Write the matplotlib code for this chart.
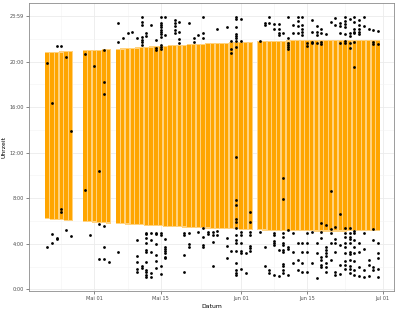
import numpy as np
import pandas as pd
import matplotlib.pyplot as plt

# days counted from 1 May
base = pd.Timestamp("2021-05-01")

# days with a sunrise/sunset bar (offset from 1 May)
bar_days = list(range(-10, -4)) + list(range(-2, 4)) + list(range(5, 34)) + list(range(35, 61))
sunset = [20.74, 20.76, 20.78, 20.80, 20.82, 20.84,
          20.90, 20.92, 20.94, 20.96, 20.98, 21.00,
          21.03, 21.06, 21.09, 21.12, 21.15, 21.18, 21.20, 21.23, 21.26, 21.28,
          21.31, 21.33, 21.36, 21.38, 21.40, 21.43, 21.45, 21.47, 21.49, 21.51,
          21.53, 21.55, 21.57, 21.58, 21.60, 21.62, 21.63, 21.65, 21.66,
          21.69, 21.70, 21.71, 21.72, 21.74, 21.75, 21.76, 21.77, 21.77, 21.78,
          21.79, 21.80, 21.80, 21.81, 21.81, 21.82, 21.82, 21.82, 21.83, 21.83,
          21.83, 21.83, 21.83, 21.82, 21.82, 21.82]
sunrise = [6.24, 6.21, 6.18, 6.15, 6.12, 6.09,
           6.02, 5.99, 5.96, 5.93, 5.91, 5.88,
           5.84, 5.81, 5.79, 5.76, 5.74, 5.71, 5.69, 5.67, 5.64, 5.62,
           5.60, 5.58, 5.56, 5.54, 5.52, 5.50, 5.49, 5.47, 5.45, 5.44,
           5.42, 5.41, 5.39, 5.38, 5.37, 5.36, 5.34, 5.33, 5.32,
           5.28, 5.26, 5.25, 5.24, 5.23, 5.22, 5.21, 5.20, 5.19, 5.19,
           5.18, 5.18, 5.17, 5.17, 5.17, 5.17, 5.17, 5.17, 5.17, 5.18,
           5.18, 5.18, 5.19, 5.19, 5.20, 5.20]

# detections: day offset -> times (hours)
evening = {
    -10: [19.9], -9: [16.4], -8: [21.4], -7: [21.4], -6: [20.4], -5: [13.9],
    -2: [20.7], 0: [19.6], 1: [10.4], 2: [21.0, 18.2, 17.2], 5: [23.4, 21.7],
    6: [22.1], 7: [22.55], 8: [22.64], 9: [22.05],
    10: [23.95, 23.5, 23.2, 22.2, 21.9, 21.7, 21.5], 11: [22.55, 22.26], 12: [23.2],
    13: [21.9, 21.2, 21.0],
    14: [23.95, 23.43, 23.2, 23.0, 22.8, 22.6, 22.4, 22.2, 21.5, 21.3, 21.1],
    15: [23.95, 22.35], 17: [23.65, 23.4, 23.1, 22.8, 22.5], 18: [23.5, 22.6, 21.95, 21.65],
    20: [23.43], 21: [22.1, 21.75], 22: [22.35], 23: [23.95, 22.5, 22.1],
    26: [22.9], 28: [23.0], 29: [21.85, 21.1, 20.8],
    30: [23.95, 23.75, 23.0, 22.4, 22.25, 22.1, 21.85, 21.25, 11.6], 31: [23.75, 21.85],
    35: [21.85], 36: [23.43, 23.2], 37: [23.95, 23.43], 38: [23.3, 22.85],
    39: [23.3, 22.9, 22.5, 22.3], 40: [22.5, 9.75],
    41: [23.9, 22.05, 21.67, 21.5, 21.3, 21.15], 42: [23.2, 22.55],
    43: [23.95, 23.6, 23.15, 22.5], 44: [23.95, 23.2, 22.9, 22.6, 22.35],
    45: [21.6, 21.4], 46: [23.65, 22.6, 21.75, 21.6], 47: [23.1, 22.6, 22.35, 21.65],
    48: [22.9, 22.5, 21.75, 21.55], 49: [22.4], 50: [23.5, 8.6], 51: [23.8, 23.2],
    52: [23.4, 23.1, 22.5, 21.65, 6.6], 53: [23.95, 23.6, 23.3, 23.0, 22.4, 21.85, 21.6],
    54: [23.75, 22.55, 22.26, 21.65, 21.2], 55: [23.95, 23.5, 22.9, 22.6, 22.5, 21.75, 19.5],
    56: [23.65, 23.2, 22.9, 22.6, 22.4], 57: [23.95, 23.1], 58: [22.85],
    59: [22.8, 21.75, 21.55], 60: [22.65, 21.55],
}
morning = {
    -10: [3.75], -9: [4.1, 4.85], -8: [4.55, 4.45], -7: [7.05, 6.8], -6: [5.2], -5: [4.65],
    -2: [8.7], -1: [4.8], 1: [5.7, 2.7], 2: [5.6, 3.7, 2.65], 3: [2.4], 5: [3.3],
    9: [4.33, 2.95, 2.43, 1.78, 1.55], 10: [2.05, 1.9],
    11: [4.97, 4.83, 4.48, 4.04, 3.45, 3.28, 2.4, 1.7, 1.52, 1.23, 1.05],
    12: [4.97, 4.33, 3.28, 1.41, 1.05], 13: [4.97, 4.83, 3.95, 2.99, 2.49, 1.9],
    14: [4.97, 4.75, 2.05, 1.34], 15: [4.45, 3.74, 3.57, 3.39, 3.22, 2.86, 2.72],
    19: [4.92, 4.75, 2.99, 1.55], 20: [4.97, 3.95, 3.74], 22: [5.06],
    23: [5.36, 4.57, 3.87, 3.74], 24: [5.06, 4.86],
    25: [5.06, 4.77, 4.18, 2.05], 26: [5.15, 4.77], 28: [4.48, 3.8, 2.75], 29: [3.39],
    30: [7.85, 7.4, 6.18, 5.94, 5.41, 4.77, 4.33, 4.04, 3.37, 2.34, 1.7, 1.46, 1.26],
    31: [5.06, 4.77, 4.04, 3.39, 3.16, 1.78], 32: [3.22, 1.41],
    33: [6.77, 5.94, 5.06, 4.77, 3.83, 3.6, 3.37], 35: [5.06], 36: [3.74, 2.05],
    37: [1.7, 1.46], 38: [4.97, 4.77, 4.27, 4.04, 3.89, 1.26], 39: [3.45, 1.17],
    40: [7.9, 4.97, 4.62, 4.04, 3.89, 3.45, 3.3, 2.22, 2.05, 1.7, 1.41],
    41: [5.21, 3.69, 3.51, 1.28], 42: [4.97, 3.3, 2.34], 43: [4.04, 2.57, 1.7],
    44: [4.04, 3.25, 2.34, 1.55], 45: [4.92, 4.04, 3.25, 1.55], 46: [5.06, 2.34],
    47: [4.04, 3.22, 0.97], 48: [5.85, 5.06, 4.48, 2.86, 2.57, 2.15, 1.94],
    49: [5.65, 3.74, 3.45, 3.16, 2.93, 2.34, 1.94, 1.55], 50: [5.27, 4.97, 4.04, 2.57],
    51: [5.5, 4.39, 4.04, 3.3, 1.55, 1.26], 52: [3.89, 2.15, 1.34],
    53: [5.36, 4.92, 4.62, 4.04, 3.74, 3.16, 2.51, 2.15, 1.76],
    54: [5.36, 4.92, 4.62, 4.39, 4.04, 3.3, 3.1, 2.57, 2.05, 1.76, 1.46],
    55: [5.15, 4.92, 4.33, 3.74, 3.16, 2.51, 1.7, 1.26], 56: [4.04, 3.3, 1.99, 1.17],
    57: [4.92, 3.51, 1.7, 1.05], 58: [2.57, 2.15, 1.17], 59: [5.27, 4.33, 1.94, 1.7],
    60: [4.04, 3.16, 2.72, 1.76, 1.05],
}

x_tick_dates = ["2021-05-01", "2021-05-15", "2021-06-01", "2021-06-15", "2021-07-01"]
x_tick_labels = ["Mai 01", "Mai 15", "Jun 01", "Jun 15", "Jul 01"]
x_minor_dates = ["2021-04-24", "2021-05-08", "2021-05-23 12:00", "2021-06-08", "2021-06-23"]
y_ticks = [0, 4, 8, 12, 16, 20, 23 + 59 / 60]
y_tick_labels = ["0:00", "4:00", "8:00", "12:00", "16:00", "20:00", "23:59"]
y_minor = [2, 6, 10, 14, 18, 22]

def off(d):
    return (pd.Timestamp(d) - base) / pd.Timedelta(days=1)

fig = plt.figure(figsize=(4, 3.11), dpi=100)
ax = fig.add_axes([0.0718, 0.0643, 0.914, 0.926])

bd = np.array(bar_days)
ss = np.array(sunset)
sr = np.array(sunrise)
ax.bar(bd, ss - sr + 0.2, bottom=sr - 0.1, width=1.0, color="#FFD27F", linewidth=0, zorder=2)
ax.bar(bd, ss - sr, bottom=sr, width=0.7, color="#FFA500", linewidth=0, zorder=3)

for data in (evening, morning):
    xs = [d for d, hs in data.items() for h in hs]
    ys = [h for d, hs in data.items() for h in hs]
    ax.scatter(xs, ys, s=4, color="black", linewidths=0, zorder=4)

ax.set_xlim(-13.9, 63.45)
ax.set_ylim(-0.15, 25.15)
ax.set_xticks([off(d) for d in x_tick_dates])
ax.set_xticklabels(x_tick_labels)
ax.set_xticks([off(d) for d in x_minor_dates], minor=True)
ax.set_yticks(y_ticks)
ax.set_yticklabels(y_tick_labels)
ax.set_yticks(y_minor, minor=True)

ax.grid(which="major", color="#EBEBEB", linewidth=0.6, zorder=0)
ax.grid(which="minor", color="#F3F3F3", linewidth=0.4, zorder=0)
ax.set_axisbelow(True)
ax.tick_params(which="major", labelsize=3.6, labelcolor="#4D4D4D", color="#555555",
               length=2, width=0.5, pad=1.5)
ax.tick_params(which="minor", length=0)
for s in ax.spines.values():
    s.set_color("#8C8C8C")
    s.set_linewidth(0.6)

ax.set_xlabel("Datum", fontsize=4.4, labelpad=2)
ax.set_ylabel("Uhrzeit", fontsize=4.4, labelpad=2)

fig.savefig("out.png", dpi=100)
